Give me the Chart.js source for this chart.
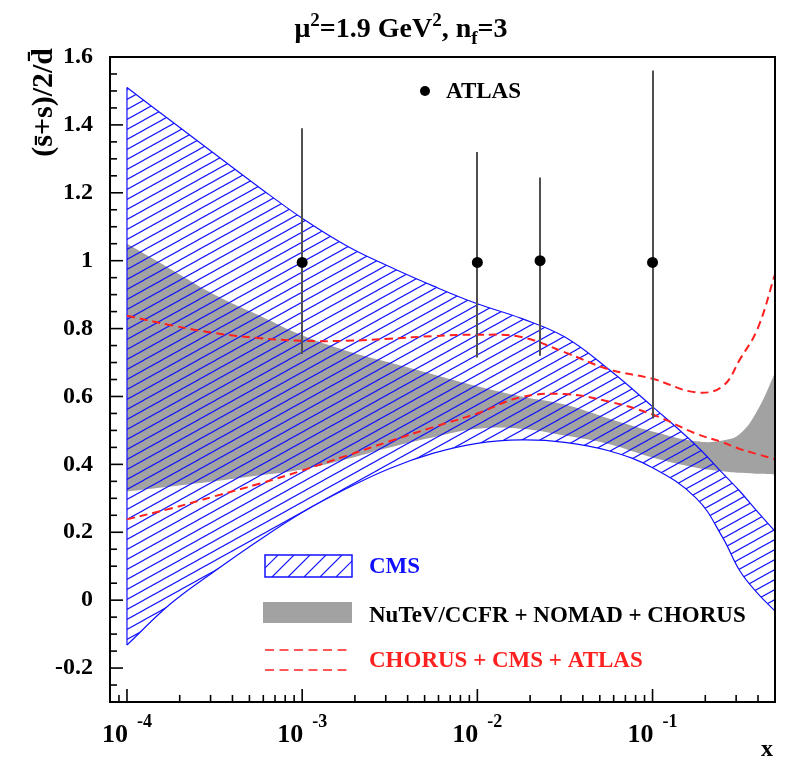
<!DOCTYPE html>
<html><head><meta charset="utf-8">
<script src="https://cdn.jsdelivr.net/npm/chart.js@4.4.0/dist/chart.umd.min.js"></script>
<style>html,body{margin:0;padding:0;background:#fff;}#wrap{width:788px;height:762px;}</style>
</head><body><div id="wrap"><canvas id="c" width="788" height="762"></canvas></div>
<script>
// ---- data ----
const xVals = [1e-4,1.78e-4,3.16e-4,5.62e-4,1e-3,1.78e-3,3.16e-3,5.62e-3,1e-2,1.78e-2,3.16e-2,5.62e-2,0.1,0.178,0.251,0.316,0.398,0.5];
const cmsUpper = [1.51,1.412,1.315,1.218,1.125,1.045,0.982,0.925,0.873,0.83,0.775,0.68,0.57,0.455,0.374,0.32,0.26,0.203];
const cmsLower = [-0.132,-0.01,0.085,0.175,0.258,0.328,0.388,0.433,0.462,0.472,0.465,0.44,0.39,0.30,0.185,0.085,0.02,-0.032];
const nutevUpper = [1.05,0.975,0.90,0.84,0.78,0.735,0.70,0.665,0.63,0.60,0.576,0.535,0.497,0.468,0.47,0.49,0.56,0.67];
const nutevLower = [0.32,0.335,0.35,0.367,0.385,0.415,0.45,0.48,0.505,0.505,0.485,0.46,0.42,0.39,0.38,0.375,0.372,0.37];
const fitUpper = [0.838,0.81,0.787,0.772,0.764,0.764,0.77,0.778,0.782,0.775,0.73,0.68,0.652,0.612,0.63,0.71,0.80,0.96];
const fitLower = [0.238,0.27,0.306,0.342,0.382,0.425,0.468,0.51,0.55,0.598,0.607,0.585,0.547,0.49,0.465,0.445,0.43,0.415];
const atlasX = [0.001,0.01,0.0228,0.1];
const atlasY = [0.995,0.995,1.0,0.995];
const atlasErrUp = [0.395,0.325,0.245,0.565];
const atlasErrDown = [0.27,0.28,0.28,0.46];
const yTickValues = [-0.2,0,0.2,0.4,0.6,0.8,1,1.2,1.4,1.6];
const yTickLabels = ['-0.2','0','0.2','0.4','0.6','0.8','1','1.2','1.4','1.6'];
const xTickValues = [1e-4,1e-3,1e-2,1e-1];
const xTickExponents = ['-4','-3','-2','-1'];
const legendLabels = ['ATLAS','CMS','NuTeV/CCFR + NOMAD + CHORUS','CHORUS + CMS + ATLAS'];
const yAxisTitle = '(s\u0304+s)/2/d\u0304';
const xAxisTitle = 'x';

const BLUE = '#1010ff', GRAY = '#a2a2a2', RED = '#ff2020';
const FONT = '"Liberation Serif", "Times New Roman", serif';

const canvas = document.getElementById('c');
const ctx = canvas.getContext('2d');

function makeHatch(){
  const W = 18, H = 10;
  const c = document.createElement('canvas'); c.width = W; c.height = H;
  const g = c.getContext('2d');
  g.strokeStyle = BLUE; g.lineWidth = 1.1;
  for (let k = -1; k <= 1; k++){
    g.beginPath();
    g.moveTo(-2, H + 2*H/W + k*H);
    g.lineTo(W + 2, -2*H/W + k*H);
    g.stroke();
  }
  return ctx.createPattern(c, 'repeat');
}
const hatch = makeHatch();

const pts = arr => arr.map((v,i)=>({x:xVals[i], y:v}));

function txt(c, s, x, y, size, color, align, baseline){
  c.font = 'bold ' + size + 'px ' + FONT;
  c.fillStyle = color; c.textAlign = align || 'left'; c.textBaseline = baseline || 'alphabetic';
  c.fillText(s, x, y);
}

const errorBars = {
  id:'errorBars',
  beforeDatasetDraw(chart, args){
    if (args.index !== 7) return;
    const c = chart.ctx, xs = chart.scales.x, ys = chart.scales.y;
    c.save();
    c.strokeStyle = '#505050'; c.lineWidth = 2;
    atlasX.forEach((xv,i)=>{
      const px = Math.round(xs.getPixelForValue(xv));
      c.beginPath();
      c.moveTo(px, ys.getPixelForValue(atlasY[i] + atlasErrUp[i]));
      c.lineTo(px, ys.getPixelForValue(atlasY[i] - atlasErrDown[i]));
      c.stroke();
    });
    c.restore();
  }
};

const axesPlugin = {
  id:'axesPlugin',
  afterDraw(chart){
    const c = chart.ctx, a = chart.chartArea, xs = chart.scales.x, ys = chart.scales.y;
    c.save();
    c.strokeStyle = '#000'; c.lineWidth = 2;
    c.strokeRect(a.left, a.top, a.right - a.left, a.bottom - a.top);
    c.lineWidth = 1.6;
    for (let k = -6; k <= 32; k++){
      const v = k * 0.05;
      if (v < ys.min - 1e-9 || v > ys.max + 1e-9) continue;
      const py = ys.getPixelForValue(v);
      const major = (k % 4 === 0);
      c.beginPath(); c.moveTo(a.left, py); c.lineTo(a.left + (major ? 13 : 7), py); c.stroke();
    }
    yTickValues.forEach((v,i)=>{
      txt(c, yTickLabels[i], 93, ys.getPixelForValue(v), 24, '#000', 'right', 'middle');
    });
    for (let e = -5; e <= 0; e++){
      for (let m = 1; m <= 9; m++){
        const v = m * Math.pow(10, e);
        if (v < xs.min || v > xs.max) continue;
        const px = xs.getPixelForValue(v);
        c.beginPath(); c.moveTo(px, a.bottom); c.lineTo(px, a.bottom - (m === 1 ? 13 : 7)); c.stroke();
      }
    }
    xTickValues.forEach((v,i)=>{
      const px = xs.getPixelForValue(v);
      txt(c, '10', px + 1, 742, 26, '#000', 'right');
      txt(c, xTickExponents[i], px + 10, 727, 18, '#000', 'left');
    });
    txt(c, xAxisTitle, 767, 756, 24, '#000', 'center');
    c.save();
    c.translate(44, 48); c.rotate(-Math.PI/2);
    txt(c, yAxisTitle, 0, 0, 30, '#000', 'right', 'middle');
    c.restore();
    const parts = [['\u03bc',28,0],['2',19,-11],['=1.9 GeV',28,0],['2',19,-11],[', n',28,0],['f',19,7],['=3',28,0]];
    let total = 0;
    parts.forEach(p=>{ c.font = 'bold ' + p[1] + 'px ' + FONT; total += c.measureText(p[0]).width; });
    let tx = 401 - total/2;
    parts.forEach(p=>{ txt(c, p[0], tx, 37 + p[2], p[1], '#000', 'left'); c.font = 'bold ' + p[1] + 'px ' + FONT; tx += c.measureText(p[0]).width; });
    c.fillStyle = '#000'; c.beginPath(); c.arc(425, 91, 5, 0, Math.PI*2); c.fill();
    txt(c, legendLabels[0], 446, 92, 23, '#000', 'left', 'middle');
    c.save();
    c.beginPath(); c.rect(265, 555, 87, 22); c.clip();
    c.strokeStyle = BLUE; c.lineWidth = 1.1;
    for (let x0 = 240; x0 < 370; x0 += 16){
      c.beginPath(); c.moveTo(x0, 577); c.lineTo(x0 + 22, 555); c.stroke();
    }
    c.restore();
    c.strokeStyle = BLUE; c.lineWidth = 1.5; c.strokeRect(265, 555, 87, 22);
    txt(c, legendLabels[1], 369, 567, 23, BLUE, 'left', 'middle');
    c.fillStyle = GRAY; c.fillRect(263, 602, 89, 21);
    txt(c, legendLabels[2], 369, 616, 23, '#000', 'left', 'middle');
    c.strokeStyle = RED; c.lineWidth = 1.6; c.setLineDash([9,5.5]);
    [650,670].forEach(y=>{ c.beginPath(); c.moveTo(265, y); c.lineTo(352, y); c.stroke(); });
    c.setLineDash([]);
    txt(c, legendLabels[3], 369, 661, 23, RED, 'left', 'middle');
    c.restore();
  }
};

new Chart(ctx, {
  type:'line',
  data:{ datasets:[
    { data:pts(nutevUpper), fill:'+1', backgroundColor:GRAY, borderWidth:0, borderColor:'rgba(0,0,0,0)', order:5 },
    { data:pts(nutevLower), fill:false, borderWidth:0, borderColor:'rgba(0,0,0,0)', order:5 },
    { data:pts(cmsUpper), fill:'+1', backgroundColor:hatch, borderColor:BLUE, borderWidth:1.2, order:3 },
    { data:pts(cmsLower), fill:false, borderColor:BLUE, borderWidth:1.2, order:3 },
    { data:[{x:xVals[0], y:cmsLower[0]},{x:xVals[0], y:cmsUpper[0]}], fill:false, borderColor:BLUE, borderWidth:1.2, tension:0, order:3 },
    { data:pts(fitUpper), fill:false, borderColor:RED, borderWidth:2, borderDash:[8,5], order:1 },
    { data:pts(fitLower), fill:false, borderColor:RED, borderWidth:2, borderDash:[8,5], order:1 },
    { data:atlasX.map((x,i)=>({x:x, y:atlasY[i]})), showLine:false, pointRadius:5.5, pointBackgroundColor:'#000', pointBorderColor:'#000', pointBorderWidth:0, order:0 }
  ]},
  options:{
    responsive:false, animation:false, devicePixelRatio:1,
    layout:{ padding:{ left:110, right:13, top:57, bottom:60 } },
    scales:{
      x:{ type:'logarithmic', min:8e-5, max:0.5, display:false },
      y:{ type:'linear', min:-0.3, max:1.6, display:false }
    },
    elements:{ point:{ radius:0 }, line:{ tension:0.4 } },
    plugins:{ legend:{ display:false }, tooltip:{ enabled:false } }
  },
  plugins:[errorBars, axesPlugin]
});
</script></body></html>
